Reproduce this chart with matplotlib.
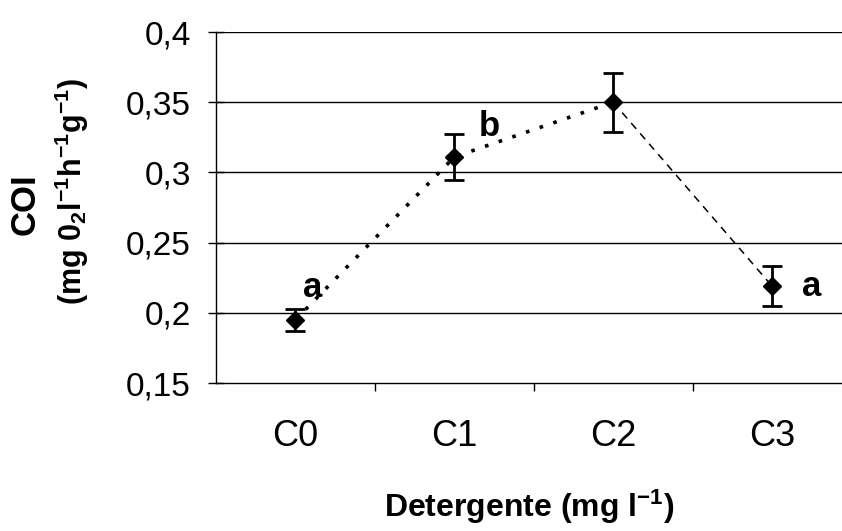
import numpy as np
import matplotlib
matplotlib.use('Agg')
from matplotlib import pyplot as plt

# datos
categorias = ['C0', 'C1', 'C2', 'C3']
coi = [0.195, 0.311, 0.350, 0.219]
error = [0.008, 0.0165, 0.021, 0.014]
letras = ['a', 'b', '', 'a']
pos_letras = [(0.11, 0.218), (1.22, 0.333), (None, None), (3.25, 0.219)]
ticks_y = [0.15, 0.2, 0.25, 0.3, 0.35, 0.4]
etiquetas_y = ['0,15', '0,2', '0,25', '0,3', '0,35', '0,4']

plt.rcParams['font.family'] = ['Liberation Sans', 'DejaVu Sans']
plt.rcParams['mathtext.fontset'] = 'custom'
plt.rcParams['mathtext.rm'] = 'Liberation Sans'
plt.rcParams['mathtext.bf'] = 'Liberation Sans:bold'
plt.rcParams['mathtext.default'] = 'bf'

fig = plt.figure(figsize=(8.42, 5.31), dpi=100)
ax = fig.add_axes([0.2565, 0.2787, 0.7435, 0.661])

x = np.arange(len(categorias))

# lineas de cuadricula
for v in ticks_y[1:]:
    ax.axhline(v, color='black', lw=1.0, zorder=1)

# tramo punteado C0-C2 y tramo discontinuo C2-C3
ax.plot(x[:3], coi[:3], color='black', lw=2.6, linestyle=(0, (1, 3)), zorder=2)
ax.plot(x[2:], coi[2:], color='black', lw=1.1, linestyle=(0, (5, 4)), zorder=2)

ax.errorbar(x, coi, yerr=error, fmt='D', color='black', ms=9, capsize=7,
            elinewidth=2.0, capthick=2.0, zorder=3)

for (lx, ly), t in zip(pos_letras, letras):
    if t:
        ax.text(lx, ly, t, fontsize=25, fontweight='bold', ha='center', va='center')

ax.set_xlim(-0.5, 3.44)
ax.set_ylim(0.15, 0.4)
ax.set_yticks(ticks_y)
ax.set_yticklabels(etiquetas_y, fontsize=24)
ax.tick_params(axis='y', direction='inout', length=12, width=1, pad=12)

ax.set_xticks([0.5, 1.5, 2.5])
ax.set_xticklabels([])
ax.set_xticks(x, minor=True)
ax.set_xticklabels(categorias, minor=True, fontsize=26)
ax.tick_params(axis='x', which='major', direction='out', length=6, width=1)
ax.tick_params(axis='x', which='minor', length=0, pad=26)

for s in ['top', 'right']:
    ax.spines[s].set_visible(False)
ax.spines['left'].set_linewidth(1.0)
ax.spines['bottom'].set_linewidth(1.0)

ax.set_xlabel(r'Detergente (mg l$^{-1}$)', fontsize=23, fontweight='bold', labelpad=24)
fig.text(0.03, 0.615, 'COI', rotation=90, fontsize=25, fontweight='bold',
         ha='center', va='center')
fig.text(0.085, 0.64, r'(mg 0$_2$l$^{-1}$h$^{-1}$g$^{-1}$)', rotation=90, fontsize=22,
         fontweight='bold', ha='center', va='center')

fig.savefig('out.png', dpi=100)
